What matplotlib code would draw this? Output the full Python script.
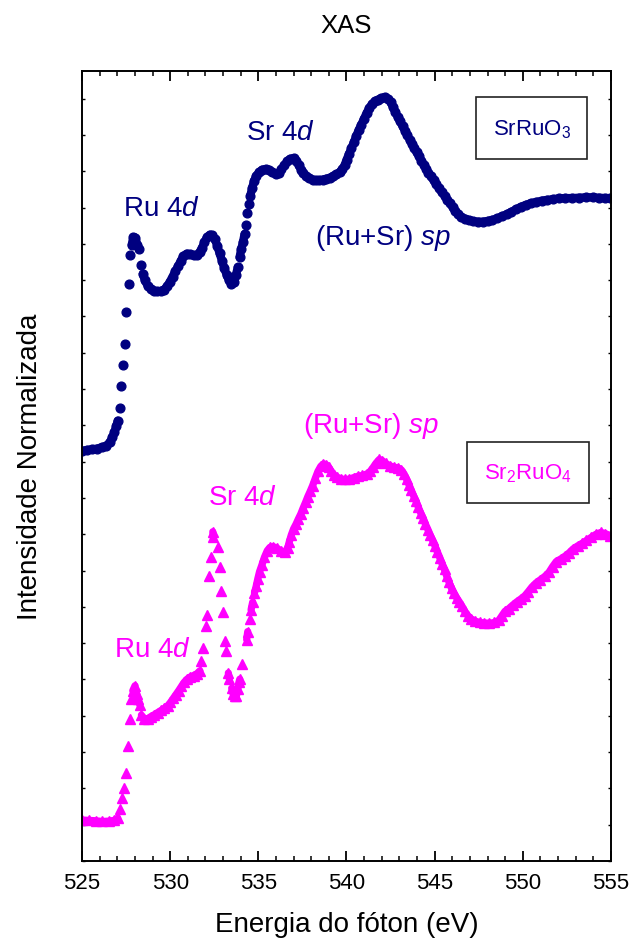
import numpy as np
import matplotlib.pyplot as plt
from matplotlib.ticker import MultipleLocator
from matplotlib.patches import Rectangle

plt.rcParams['font.family'] = ['Liberation Sans', 'DejaVu Sans']
plt.rcParams['mathtext.fontset'] = 'custom'
plt.rcParams['mathtext.rm'] = 'Liberation Sans'
plt.rcParams['mathtext.it'] = 'Liberation Sans:italic'

# SrRuO3 spectrum (navy circles)
e_srruo3 = np.array([
    525.00, 525.29, 525.58, 525.86, 526.15, 526.38, 526.57, 526.73, 526.84, 526.94,
    527.03, 527.13, 527.24, 527.34, 527.42, 527.51, 527.65, 527.74, 527.82, 527.91,
    528.03, 528.14, 528.24, 528.36, 528.45, 528.57, 528.72, 528.89, 529.08, 529.28,
    529.47, 529.66, 529.83, 529.99, 530.14, 530.29, 530.45, 530.60, 530.75, 530.94,
    531.14, 531.33, 531.52, 531.67, 531.81, 531.94, 532.09, 532.25, 532.40, 532.54,
    532.67, 532.80, 532.94, 533.07, 533.21, 533.34, 533.48, 533.61, 533.72, 533.84,
    533.94, 534.03, 534.13, 534.22, 534.30, 534.38, 534.45, 534.55, 534.65, 534.76,
    534.89, 535.05, 535.22, 535.41, 535.60, 535.80, 535.99, 536.16, 536.31, 536.47,
    536.64, 536.81, 537.00, 537.16, 537.29, 537.43, 537.56, 537.71, 537.89, 538.08,
    538.27, 538.46, 538.65, 538.84, 539.04, 539.23, 539.42, 539.61, 539.77, 539.90,
    540.01, 540.15, 540.28, 540.42, 540.55, 540.69, 540.84, 540.99, 541.15, 541.30,
    541.45, 541.61, 541.78, 541.97, 542.16, 542.35, 542.51, 542.64, 542.78, 542.91,
    543.04, 543.18, 543.31, 543.45, 543.58, 543.72, 543.85, 543.98, 544.12, 544.25,
    544.39, 544.52, 544.65, 544.79, 544.94, 545.10, 545.25, 545.40, 545.56, 545.71,
    545.86, 546.02, 546.17, 546.32, 546.51, 546.73, 546.96, 547.20, 547.47, 547.74,
    548.01, 548.28, 548.55, 548.82, 549.08, 549.35, 549.62, 549.89, 550.16, 550.46,
    550.77, 551.08, 551.39, 551.69, 552.04, 552.42, 552.80, 553.19, 553.57, 553.96,
    554.34, 554.68, 554.95])
i_srruo3 = np.array([
    11.30, 11.32, 11.34, 11.36, 11.40, 11.44, 11.53, 11.67, 11.81, 11.97,
    12.13, 12.47, 13.08, 13.66, 14.24, 15.13, 15.90, 16.69, 16.97, 17.18,
    17.17, 16.97, 16.86, 16.42, 16.17, 15.99, 15.85, 15.76, 15.71, 15.69,
    15.70, 15.74, 15.83, 15.96, 16.10, 16.24, 16.38, 16.53, 16.66, 16.73,
    16.71, 16.68, 16.69, 16.77, 16.89, 17.04, 17.18, 17.25, 17.23, 17.12,
    16.95, 16.75, 16.54, 16.33, 16.14, 15.99, 15.90, 15.94, 16.13, 16.35,
    16.63, 16.86, 17.04, 17.27, 17.52, 17.85, 18.10, 18.33, 18.54, 18.73,
    18.88, 18.97, 19.04, 19.06, 19.04, 18.97, 18.91, 18.95, 19.05, 19.16,
    19.27, 19.34, 19.36, 19.29, 19.17, 19.04, 18.94, 18.86, 18.81, 18.77,
    18.75, 18.75, 18.77, 18.79, 18.82, 18.86, 18.91, 18.97, 19.06, 19.17,
    19.32, 19.48, 19.63, 19.80, 19.96, 20.13, 20.28, 20.44, 20.61, 20.74,
    20.85, 20.93, 20.97, 21.01, 21.04, 20.99, 20.90, 20.76, 20.62, 20.49,
    20.37, 20.24, 20.12, 20.00, 19.87, 19.75, 19.63, 19.52, 19.41, 19.29,
    19.17, 19.06, 18.95, 18.86, 18.75, 18.64, 18.53, 18.42, 18.33, 18.22,
    18.13, 18.01, 17.90, 17.81, 17.73, 17.69, 17.65, 17.62, 17.61, 17.61,
    17.63, 17.66, 17.70, 17.76, 17.81, 17.88, 17.95, 18.02, 18.07, 18.12,
    18.15, 18.19, 18.21, 18.23, 18.25, 18.26, 18.26, 18.27, 18.28, 18.28,
    18.27, 18.26, 18.26])

# Sr2RuO4 spectrum (magenta triangles)
e_sr2ruo4 = np.array([
    525.00, 525.38, 525.77, 526.15, 526.53, 526.82, 527.03, 527.15, 527.28, 527.40,
    527.49, 527.63, 527.72, 527.78, 527.88, 528.01, 528.11, 528.18, 528.28, 528.37,
    528.53, 528.72, 528.91, 529.10, 529.30, 529.49, 529.68, 529.87, 530.02, 530.18,
    530.33, 530.48, 530.64, 530.79, 530.96, 531.14, 531.33, 531.52, 531.69, 531.77,
    531.86, 532.06, 532.10, 532.23, 532.31, 532.42, 532.44, 532.73, 532.82, 532.90,
    532.98, 533.11, 533.17, 533.30, 533.36, 533.49, 533.57, 533.67, 533.76, 533.84,
    533.90, 533.95, 534.07, 534.34, 534.40, 534.51, 534.59, 534.68, 534.78, 534.88,
    534.97, 535.07, 535.20, 535.35, 535.51, 535.66, 535.85, 536.08, 536.31, 536.51,
    536.66, 536.75, 536.87, 537.00, 537.14, 537.27, 537.41, 537.54, 537.68, 537.81,
    537.94, 538.08, 538.23, 538.38, 538.54, 538.69, 538.84, 539.00, 539.15, 539.31,
    539.48, 539.67, 539.90, 540.15, 540.40, 540.65, 540.90, 541.15, 541.34, 541.51,
    541.68, 541.86, 542.03, 542.22, 542.45, 542.68, 542.93, 543.12, 543.27, 543.41,
    543.54, 543.68, 543.81, 543.95, 544.08, 544.21, 544.35, 544.48, 544.62, 544.75,
    544.89, 545.02, 545.15, 545.29, 545.42, 545.56, 545.69, 545.82, 545.96, 546.09,
    546.25, 546.40, 546.55, 546.71, 546.88, 547.07, 547.30, 547.55, 547.82, 548.11,
    548.39, 548.64, 548.82, 548.99, 549.20, 549.43, 549.66, 549.89, 550.12, 550.31,
    550.52, 550.75, 551.00, 551.25, 551.48, 551.69, 551.90, 552.15, 552.40, 552.63,
    552.86, 553.11, 553.36, 553.61, 553.88, 554.15, 554.42, 554.68, 554.95])
i_sr2ruo4 = np.array([
    1.13, 1.12, 1.11, 1.09, 1.10, 1.12, 1.18, 1.43, 1.73, 2.02,
    2.42, 3.16, 3.91, 4.46, 4.69, 4.83, 4.60, 4.46, 4.30, 4.02,
    3.91, 3.91, 3.98, 4.03, 4.09, 4.15, 4.21, 4.28, 4.37, 4.48,
    4.58, 4.69, 4.81, 4.92, 5.01, 5.07, 5.11, 5.16, 5.24, 5.52,
    5.86, 6.48, 6.78, 7.86, 8.37, 9.07, 8.92, 8.64, 8.09, 7.45,
    6.85, 6.07, 5.79, 5.18, 5.01, 4.76, 4.60, 4.54, 4.55, 4.74,
    4.92, 5.01, 5.43, 6.10, 6.32, 6.67, 6.92, 7.13, 7.38, 7.57,
    7.77, 7.97, 8.15, 8.37, 8.55, 8.64, 8.66, 8.61, 8.53, 8.52,
    8.61, 8.78, 8.98, 9.15, 9.28, 9.42, 9.56, 9.72, 9.88, 10.04,
    10.18, 10.34, 10.54, 10.73, 10.87, 10.94, 10.92, 10.84, 10.73, 10.63,
    10.57, 10.53, 10.51, 10.52, 10.56, 10.60, 10.62, 10.66, 10.73, 10.84,
    10.96, 11.06, 11.03, 10.95, 10.89, 10.85, 10.83, 10.77, 10.66, 10.52,
    10.37, 10.21, 10.06, 9.91, 9.74, 9.59, 9.44, 9.28, 9.13, 8.98,
    8.83, 8.68, 8.52, 8.36, 8.19, 8.03, 7.84, 7.68, 7.51, 7.38,
    7.25, 7.14, 7.02, 6.88, 6.76, 6.67, 6.61, 6.57, 6.56, 6.55,
    6.57, 6.63, 6.76, 6.88, 6.95, 7.05, 7.14, 7.22, 7.31, 7.42,
    7.55, 7.66, 7.75, 7.84, 7.95, 8.11, 8.25, 8.32, 8.40, 8.49,
    8.60, 8.68, 8.75, 8.83, 8.92, 9.00, 9.05, 9.02, 8.96])

navy = '#000080'
magenta = '#ff00ff'

fig = plt.figure(figsize=(6.32, 9.45), dpi=100)
ax = fig.add_axes([0.1297, 0.0878, 0.8370, 0.8360])
ax.set_xlim(525, 555)
ax.set_ylim(0, 21.76)


def draw(x, y, color, marker, ms, lw):
    # markers that overlap on screen are joined into a thick band, like the original
    pts = ax.transData.transform(np.column_stack([x, y]))
    gap = np.hypot(*np.diff(pts, axis=0).T) > 8.5
    xs, ys = [x[0]], [y[0]]
    for k in range(1, len(x)):
        if gap[k - 1]:
            xs.append(np.nan)
            ys.append(np.nan)
        xs.append(x[k])
        ys.append(y[k])
    ax.plot(xs, ys, color=color, lw=lw, solid_capstyle='round', solid_joinstyle='round')
    ax.plot(x, y, marker, color=color, mec=color, ms=ms, ls='none')


draw(e_srruo3, i_srruo3, navy, 'o', 6.3, 6.0)
draw(e_sr2ruo4, i_sr2ruo4, magenta, '^', 6.8, 5.2)

ax.set_xticks(np.arange(525, 556, 5))
ax.xaxis.set_minor_locator(MultipleLocator(1))
ax.tick_params(axis='x', which='both', direction='in', top=True, labelsize=16, pad=8)
ax.tick_params(axis='x', which='major', length=7, width=1.3)
ax.tick_params(axis='x', which='minor', length=3.6, width=1.1)
ax.set_yticks(np.arange(0, 22))
ax.tick_params(axis='y', direction='in', right=True, labelleft=False, length=2.5, width=1)
for s in ax.spines.values():
    s.set_linewidth(1.4)

ax.set_title('XAS', fontsize=18.5, pad=28)
ax.set_xlabel('Energia do fóton (eV)', fontsize=20, labelpad=13)
fig.text(30 / 632, 0.5058, 'Intensidade Normalizada', rotation=90,
         ha='center', va='center', fontsize=20)

# peak labels
ax.text(527.33, 17.80, 'Ru 4$\\mathit{d}$', color=navy, fontsize=20)
ax.text(534.30, 19.89, 'Sr 4$\\mathit{d}$', color=navy, fontsize=20)
ax.text(538.22, 17.00, '(Ru+Sr) $\\mathit{sp}$', color=navy, fontsize=20)
ax.text(537.56, 11.82, '(Ru+Sr) $\\mathit{sp}$', color=magenta, fontsize=20)
ax.text(532.14, 9.83, 'Sr 4$\\mathit{d}$', color=magenta, fontsize=20)
ax.text(526.82, 5.66, 'Ru 4$\\mathit{d}$', color=magenta, fontsize=20)

# sample boxes
ax.add_patch(Rectangle((0.7457, 0.8886), 0.2097, 0.0781, transform=ax.transAxes,
                       fill=False, lw=1.2, ec='#222222'))
ax.text(0.8506, 0.9276, 'SrRuO$_3$', transform=ax.transAxes, color=navy,
        fontsize=16, ha='center', va='center')
ax.add_patch(Rectangle((0.7285, 0.4528), 0.2299, 0.0772, transform=ax.transAxes,
                       fill=False, lw=1.2, ec='#222222'))
ax.text(0.8432, 0.4914, 'Sr$_2$RuO$_4$', transform=ax.transAxes, color=magenta,
        fontsize=16, ha='center', va='center')

fig.savefig('out.png', dpi=100)
